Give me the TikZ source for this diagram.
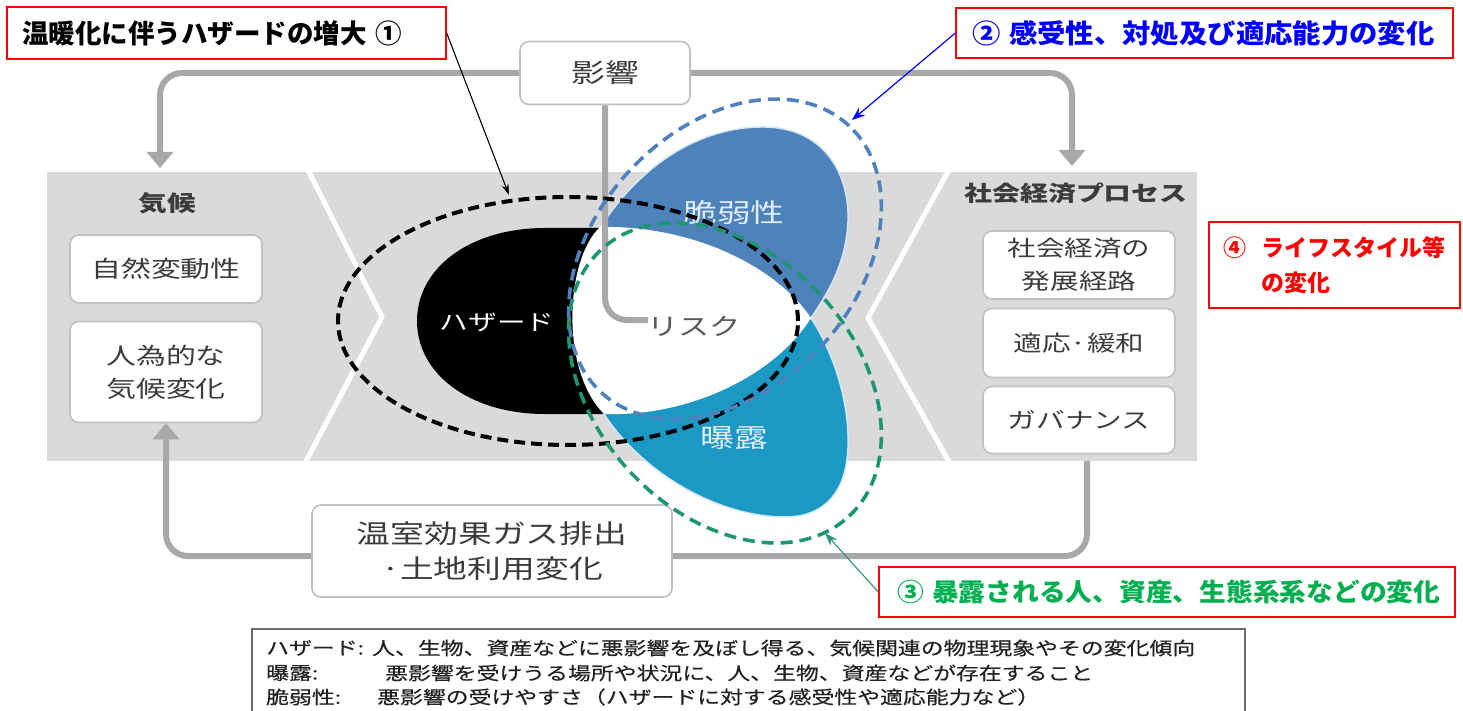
\documentclass[tikz,border=0pt]{standalone}
\usepackage{fontspec}
\setmainfont{Noto Sans CJK JP}
\newfontfamily\jpw[FakeStretch=1.3]{Noto Sans CJK JP}
\newfontfamily\jpl[FakeStretch=1.27,FakeBold=0.5]{Noto Sans CJK JP}
\newfontfamily\jpa[FakeStretch=1.07]{Noto Sans CJK JP}
\usetikzlibrary{arrows.meta}
\definecolor{connGray}{RGB}{168,168,168}
\definecolor{bandGray}{RGB}{218,218,218}
\definecolor{boxGray}{RGB}{192,192,192}
\definecolor{txtGray}{RGB}{60,60,60}
\definecolor{petalBlue}{RGB}{78,130,186}
\definecolor{petalTeal}{RGB}{28,152,196}
\definecolor{petalEdge}{RGB}{214,232,245}
\definecolor{vennText}{RGB}{226,236,246}
\definecolor{dashBlue}{RGB}{79,129,189}
\definecolor{dashGreen}{RGB}{30,150,115}
\definecolor{annBlue}{RGB}{0,0,255}
\definecolor{annGreen}{RGB}{0,176,80}
\definecolor{annRed}{RGB}{255,0,0}
\definecolor{arrGreen}{RGB}{40,150,120}
\definecolor{legText}{RGB}{35,35,35}
\definecolor{legFrame}{RGB}{110,110,110}
\newcommand\fsz[2]{\fontsize{#1pt}{#2pt}\selectfont}
\tikzset{
  conn/.style={draw=connGray, line width=6pt, rounded corners=22pt},
  conntip/.style={-{Triangle[width=26pt,length=16pt]}},
  wbox/.style={draw=boxGray, line width=1.6pt, fill=white, rounded corners=9pt,
    inner sep=0pt, align=center, text=txtGray},
  panellbl/.style={inner sep=0pt, text=txtGray, font=\jpw\bfseries\fsz{22}{26}},
  anno/.style={draw=annRed, line width=1.3pt, fill=white, inner ysep=0pt, align=left},
  leg/.style={inner sep=0pt, anchor=west, text=legText, font=\jpl\fsz{18}{18}},
  dashell/.style={line width=3.6pt, dash pattern=on 12pt off 7pt},
  vennlbl/.style={inner sep=0pt}
}
\begin{document}
\begin{tikzpicture}[x=1pt,y=-1pt]
\useasboundingbox (0,0) rectangle (1463,711);
\fill[white] (0,0) rectangle (1463,711);

% gray band and chevrons
\fill[bandGray] (47,172) rectangle (1197,461);
\draw[white, line width=5pt] (306,166) -- (382,317) -- (303,467);
\draw[white, line width=5pt] (951,166) -- (868,318) -- (952,467);

% Venn shapes
\fill[black] (604,414) -- (545,414) .. controls (470,414) and (417,374) .. (417,321)
  .. controls (417,268) and (470,228) .. (545,228) -- (600,228) -- cycle;
\filldraw[fill=petalBlue, draw=petalEdge, line width=1.5pt]
  (600,228) .. controls (640,165) and (700,126) .. (765,127)
  .. controls (825,128) and (850,175) .. (848,222)
  .. controls (846,262) and (830,290) .. (811,318) -- cycle;
\filldraw[fill=petalTeal, draw=petalEdge, line width=1.5pt]
  (811,318) .. controls (832,350) and (850,400) .. (848,448)
  .. controls (846,495) and (822,517) .. (785,517)
  .. controls (715,517) and (640,470) .. (604,414) -- cycle;
\fill[white] (600,227) .. controls (690,225) and (775,265) .. (811,318)
  .. controls (775,375) and (690,417) .. (604,414)
  .. controls (560,370) and (565,260) .. (600,227) -- cycle;

% boxes
\node[wbox, minimum width=170pt, minimum height=63pt, font=\jpw\fsz{26}{30}] (eikyo) at (605,73) {影響};
\node[panellbl] (climlbl) at (167,203) {気候};
\node[wbox, minimum width=192pt, minimum height=68pt, font=\jpw\fsz{23}{33}] (natvar) at (166,269) {自然変動性};
\node[wbox, minimum width=192pt, minimum height=101pt, font=\jpw\fsz{23}{33}] (anthro) at (166,372) {人為的な\\気候変化};
\node[panellbl, font=\jpw\bfseries\fsz{21.5}{26}] (socilbl) at (1076,193) {社会経済プロセス};
\node[wbox, minimum width=192pt, minimum height=68pt, font=\jpw\fsz{22}{33}] (devpath) at (1079,265) {社会経済の\\発展経路};
\node[wbox, minimum width=192pt, minimum height=69pt, font=\jpw\fsz{22}{33}] (adapt) at (1079,343) {適応·緩和};
\node[wbox, minimum width=192pt, minimum height=67pt, font=\jpw\fsz{22}{33}] (gov) at (1079,420) {ガバナンス};
\node[wbox, minimum width=360pt, minimum height=92pt, font=\jpw\fsz{26}{35}] (ghg) at (492,551) {温室効果ガス排出\\·土地利用変化};

% connector end points
\coordinate (climtop) at (160,168);
\coordinate (socitop) at (1072,166);
\coordinate (riskin) at (648,320);
\coordinate (socibot) at (1087,461);

% gray connectors
\draw[conn, conntip] (eikyo.west) -| (climtop);
\draw[conn, conntip] (eikyo.east) -| (socitop);
\draw[conn] (eikyo.south) |- (riskin);
\draw[conn, conntip] ([yshift=-5pt]ghg.west) -| (anthro.south);
\draw[conn] ([yshift=-5pt]ghg.east) -| (socibot);

% Venn labels
\node[vennlbl, text=white, font=\jpw\fsz{22}{22}] (hazlbl) at (497,322) {ハザード};
\node[vennlbl, text=txtGray!85, font=\jpw\fsz{24}{24}] (risklbl) at (694,326) {リスク};
\node[vennlbl, text=vennText, font=\jpw\fsz{26}{26}] (vulnlbl) at (734,213) {脆弱性};
\node[vennlbl, text=vennText, font=\jpw\fsz{26}{26}] (explbl) at (734,438) {曝露};

% dashed ellipses
\draw[black, dashell, line width=4pt, dash pattern=on 11pt off 6pt] (568,321) ellipse [x radius=230pt, y radius=124pt];
\begin{scope}[shift={(725,259)}, rotate=47]
  \draw[dashBlue, dashell] (0,0) ellipse [x radius=182pt, y radius=130pt];
\end{scope}
\begin{scope}[shift={(725,383)}, rotate=-47]
  \draw[dashGreen, dashell] (0,0) ellipse [x radius=182pt, y radius=130pt];
\end{scope}

% annotations
\node[anno, text=black, inner xsep=15pt, text width=409pt, minimum height=52pt,
  font=\bfseries\fsz{26.5}{30}] (ann1) at (226.5,33) {温暖化に伴うハザードの増大 ①};
\node[anno, text=annBlue, inner xsep=16pt, text width=465pt, minimum height=50pt,
  font=\jpa\bfseries\fsz{26.5}{30}] (ann2) at (1204.5,33) {② 感受性、対処及び適応能力の変化};
\node[anno, text=annRed, inner xsep=14.5pt, text width=222pt, minimum height=86pt,
  font=\bfseries\fsz{23}{35}] (ann4) at (1334.5,265) {\makebox[38pt][l]{④}ライフスタイル等\\\hspace*{38pt}の変化};
\node[anno, text=annGreen, inner xsep=18pt, text width=540pt, minimum height=50pt,
  font=\jpa\bfseries\fsz{25}{30}] (ann3) at (1167,592) {③ 暴露される人、資産、生態系系などの変化};

\coordinate (tipblack) at (509,195);
\coordinate (tipblue) at (852,120);
\coordinate (tipgreen) at (825,533);
\draw[black, line width=1.1pt, -{Stealth[length=11pt,width=7pt]}] (ann1.east) -- (tipblack);
\draw[annBlue, line width=1.2pt, -{Stealth[length=13pt,width=10pt]}] (ann2.west) -- (tipblue);
\draw[arrGreen, line width=1.1pt, -{Stealth[length=13pt,width=9pt]}] (ann3.west) -- (tipgreen);

% legend
\draw[legFrame, line width=1.6pt] (252,716) -- (252,629) -- (1245,629) -- (1245,716);
\node[leg] (lt1) at (266,648) {ハザード:};
\node[leg] (ld1) at (372,648) {人、生物、資産などに悪影響を及ぼし得る、気候関連の物理現象やその変化傾向};
\node[leg] (lt2) at (266,673) {曝露:};
\node[leg] (ld2) at (385,673) {悪影響を受けうる場所や状況に、人、生物、資産などが存在すること};
\node[leg] (lt3) at (266,697) {脆弱性:};
\node[leg] (ld3) at (377,697) {悪影響の受けやすさ（ハザードに対する感受性や適応能力など）};
\end{tikzpicture}
\end{document}
